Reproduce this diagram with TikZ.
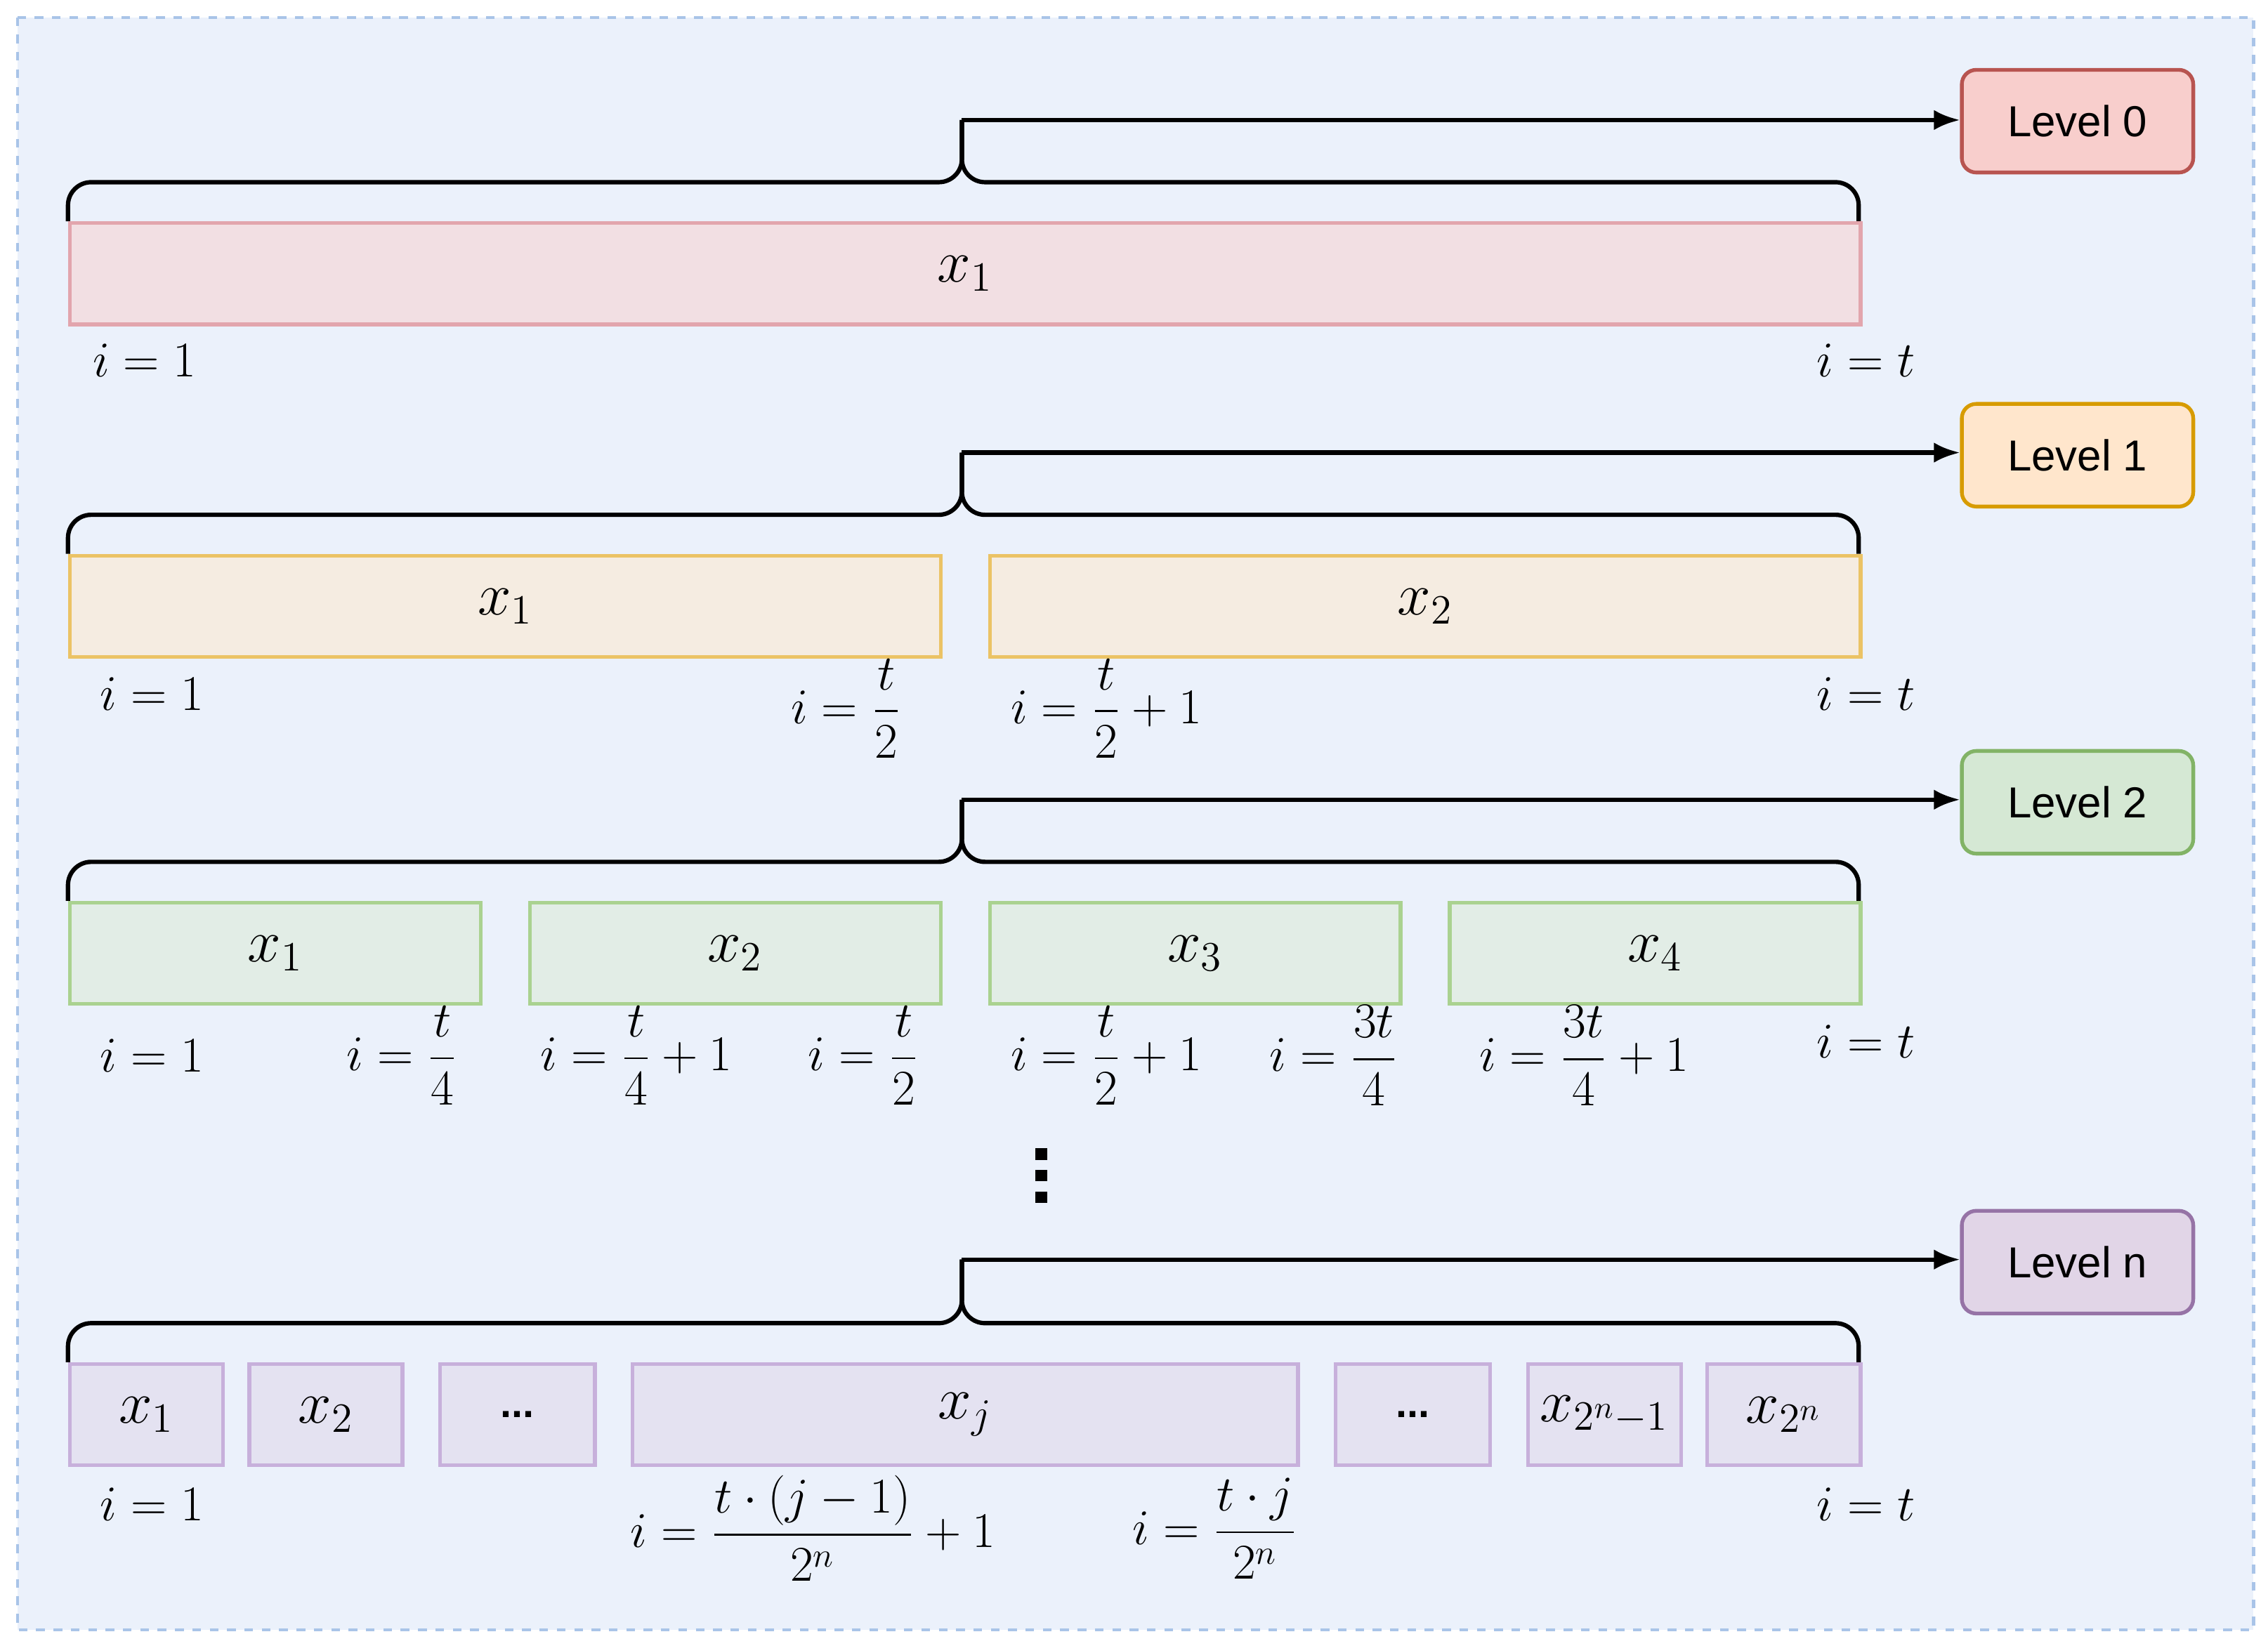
\documentclass[tikz,border=0pt]{standalone}
\usepackage{amsmath,amssymb}
\usepackage{fontspec}
\usetikzlibrary{arrows.meta}
\newfontfamily\lvfont{Liberation Sans}
\begin{document}
\begin{tikzpicture}[x=0.5pt,y=-0.5pt,
 bar/.style={draw,line width=1.3pt,inner sep=0pt,anchor=north west},
 lvl/.style={draw,line width=1.3pt,rounded corners=5pt,minimum width=80pt,minimum height=35.5pt,anchor=north west,font=\lvfont\fontsize{15}{18}\selectfont},
 lab/.style={font=\fontsize{17}{20}\selectfont},
 big/.style={font=\fontsize{21}{24}\selectfont},
 br/.style={line width=1.5pt,rounded corners=8pt},
 arr/.style={line width=1.5pt,-{Latex[length=9pt,width=7pt]}}]
\useasboundingbox (0,0) rectangle (1568,1138);
\draw[dashed,line width=1pt,draw={rgb,255:red,169;green,196;blue,232},fill={rgb,255:red,235;green,241;blue,251}] (12,12) rectangle (1558,1127);
\definecolor{f0}{HTML}{F2DFE3}\definecolor{s0}{HTML}{E2A5AD}
\definecolor{f1}{HTML}{F5ECE1}\definecolor{s1}{HTML}{EBC365}
\definecolor{f2}{HTML}{E2EDE6}\definecolor{s2}{HTML}{AAD290}
\definecolor{f3}{HTML}{E4E2F1}\definecolor{s3}{HTML}{C7B0DB}
% braces
\foreach \yb/\ya in {153/83,383/313,623/553,942/871}{
 \draw[br] (47,\yb) -- (47,\yb-27) -- (665,\yb-27) -- (665,\ya);
 \draw[br] (1285,\yb) -- (1285,\yb-27) -- (665,\yb-27) -- (665,\ya);
}
% level boxes
\node[lvl,fill={rgb,255:red,248;green,206;blue,204},draw={rgb,255:red,184;green,84;blue,80}] (L0) at (1355,47) {Level 0};
\node[lvl,fill={rgb,255:red,255;green,230;blue,204},draw={rgb,255:red,215;green,155;blue,0}] (L1) at (1355,278) {Level 1};
\node[lvl,fill={rgb,255:red,213;green,232;blue,212},draw={rgb,255:red,130;green,179;blue,102}] (L2) at (1355,518) {Level 2};
\node[lvl,fill={rgb,255:red,225;green,213;blue,231},draw={rgb,255:red,150;green,115;blue,166}] (Ln) at (1355,836) {Level n};
\coordinate (a0) at (665,83); \coordinate (a1) at (665,313);
\coordinate (a2) at (665,553); \coordinate (a3) at (665,871);
\draw[arr] (a0) -- (a0 -| L0.west); \draw[arr] (a1) -- (a1 -| L1.west);
\draw[arr] (a2) -- (a2 -| L2.west); \draw[arr] (a3) -- (a3 -| Ln.west);
% bars
\node[bar,fill=f0,draw=s0,minimum width=619pt,minimum height=35pt,big] (b0) at (47,153) {$x_1$};
\node[bar,fill=f1,draw=s1,minimum width=301pt,minimum height=35pt,big] (b11) at (47,383) {$x_1$};
\node[bar,fill=f1,draw=s1,minimum width=301pt,minimum height=35pt,big] (b12) at (683,383) {$x_2$};
\foreach \x/\t [count=\k] in {47/x_1,365/x_2,683/x_3,1001/x_4}
 \node[bar,fill=f2,draw=s2,minimum width=142pt,minimum height=35pt,big] (b2\k) at (\x,623) {$\t$};
\foreach \x/\w/\t [count=\k] in {47/53/$x_1$,171/53/$x_2$,303/53.5/{\lvfont\bfseries\fontsize{14}{16}\selectfont ...},436/230/$x_j$,922/53.5/{\lvfont\bfseries\fontsize{14}{16}\selectfont ...},1055/53/$x_{2^n-1}$,1179/53/$x_{2^n}$}
 \node[bar,fill=f3,draw=s3,minimum width=\w pt,minimum height=35pt,big] (b3\k) at (\x,942) {\t};
% labels
\node[lab] (l01) at (100,249) {$i=1$};
\node[lab] (l02) at (1290,249) {$i=t$};
\node[lab] (l11) at (105,480) {$i=1$};
\node[lab] (l12) at (585,490) {$i=\dfrac{t}{2}$};
\node[lab] (l13) at (765,490) {$i=\dfrac{t}{2}+1$};
\node[lab] (l14) at (1290,480) {$i=t$};
\node[lab] (l21) at (105,730) {$i=1$};
\node[lab] (l22) at (278,730) {$i=\dfrac{t}{4}$};
\node[lab] (l23) at (440,730) {$i=\dfrac{t}{4}+1$};
\node[lab] (l24) at (597,730) {$i=\dfrac{t}{2}$};
\node[lab] (l25) at (765,730) {$i=\dfrac{t}{2}+1$};
\node[lab] (l26) at (922,730) {$i=\dfrac{3t}{4}$};
\node[lab] (l27) at (1095,730) {$i=\dfrac{3t}{4}+1$};
\node[lab] (l28) at (1290,720) {$i=t$};
\foreach \yy in {798,813,828} \fill (716,\yy-4) rectangle (724,\yy+4);
\node[lab] (l31) at (105,1040) {$i=1$};
\node[lab] (l32) at (562,1057) {$i=\dfrac{t\cdot(j-1)}{2^n}+1$};
\node[lab] (l33) at (840,1057) {$i=\dfrac{t\cdot j}{2^n}$};
\node[lab] (l34) at (1290,1040) {$i=t$};
\end{tikzpicture}
\end{document}
